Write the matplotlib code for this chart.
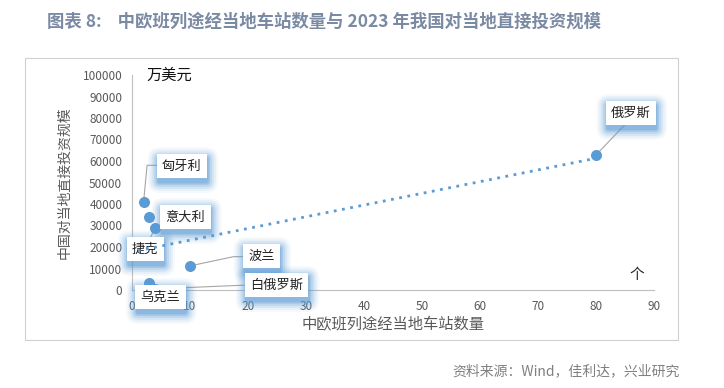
import matplotlib as mpl
import matplotlib.pyplot as plt
import numpy as np
from matplotlib.patches import FancyBboxPatch, Rectangle

mpl.use("Agg")

plt.rcParams["font.family"] = ["Noto Sans CJK SC", "DejaVu Sans"]

countries = ["匈牙利", "意大利", "捷克", "波兰", "乌克兰", "白俄罗斯", "俄罗斯"]
stations = [2, 3, 4, 10, 3, 4, 80]
investment = [41000, 34000, 29000, 11200, 3300, 500, 62800]

# label centre (data coords) and leader lines for each country
label_pos = {
    "匈牙利": (8.6, 57600),
    "意大利": (9.2, 34000),
    "捷克": (2.3, 19000),
    "波兰": (22.3, 15800),
    "乌克兰": (4.9, -3300),
    "白俄罗斯": (24.9, 2300),
    "俄罗斯": (86.0, 82300),
}
leaders = {
    "匈牙利": [(2, 41000), (2.6, 58000), (4.3, 58000)],
    "捷克": [(4, 29000), (3.2, 24500)],
    "波兰": [(10, 11200), (17.5, 15500), (19.2, 15500)],
    "白俄罗斯": [(4, 500), (19.8, 2300)],
    "俄罗斯": [(80, 62800), (85.2, 77500)],
}

blue = "#5b9bd5"
grey = "#595959"

fig = plt.figure(figsize=(7.24, 3.88), dpi=100)

fig.text(0.065, 0.943, "图表 8:    中欧班列途经当地车站数量与 2023 年我国对当地直接投资规模",
         fontsize=12.5, color="#7b8aa3", fontweight="bold", va="center")
fig.patches.append(Rectangle((25 / 724, 1 - 340 / 388), 653 / 724, 282 / 388,
                             transform=fig.transFigure, fill=False,
                             edgecolor="#d0d0d0", linewidth=0.8))
fig.text(0.939, 0.044, "资料来源：Wind，佳利达，兴业研究", fontsize=10,
         color="#808080", ha="right", va="center")

ax = fig.add_axes([132 / 724, 1 - 290 / 388, 522 / 724, 215 / 388])
ax.set_xlim(0, 90)
ax.set_ylim(0, 100000)
ax.set_xticks(np.arange(0, 91, 10))
ax.set_yticks(np.arange(0, 100001, 10000))
ax.set_yticklabels([str(v) for v in range(0, 100001, 10000)])
for s in ["top", "right"]:
    ax.spines[s].set_visible(False)
for s in ["left", "bottom"]:
    ax.spines[s].set_color("#bfbfbf")
ax.tick_params(length=0, labelsize=8.5, colors=grey, pad=7)
ax.patch.set_visible(False)

# linear trendline
k, b = np.polyfit(stations, investment, 1)
tx = np.array([1, max(stations)])
ax.plot(tx, k * tx + b, color=blue, linestyle=(0, (1, 2)), linewidth=2, zorder=7)

for name, pts in leaders.items():
    xs, ys = zip(*pts)
    ax.plot(xs, ys, color="#a6a6a6", linewidth=0.8, zorder=3, clip_on=False)

ax.scatter(stations, investment, s=48, color=blue, zorder=4, clip_on=False)

labels = []
for name in countries:
    x, y = label_pos[name]
    t = ax.text(x, y, name, fontsize=9.5, color="#222222", ha="center", va="center",
                zorder=6, clip_on=False,
                bbox=dict(boxstyle="square,pad=0.4", facecolor="white", edgecolor="none"))
    labels.append(t)

# soft blue glow behind each label box, drawn in pixel space
fig.canvas.draw()
for t in labels:
    bb = t.get_bbox_patch().get_window_extent()
    for grow, a in [(11, 0.06), (9, 0.09), (7, 0.13), (5, 0.18), (3, 0.25), (1.5, 0.35)]:
        p = FancyBboxPatch((bb.x0 + 2 - grow, bb.y0 - 4 - grow),
                           bb.width + 2 * grow - 2, bb.height + 2 * grow,
                           boxstyle=f"round,pad=0,rounding_size={grow + 1}",
                           transform=None, facecolor=blue, edgecolor="none",
                           alpha=a, zorder=5, clip_on=False)
        ax.add_artist(p)
        p.set_clip_on(False)

ax.text(2.5, 100000, "万美元", fontsize=11, color="#111111", va="center")
ax.text(87, 7000, "个", fontsize=10.5, color="#222222", ha="center", va="center")
ax.set_xlabel("中欧班列途经当地车站数量", fontsize=11, color=grey, labelpad=2)
ax.set_ylabel("中国对当地直接投资规模", fontsize=10, color=grey, labelpad=8)

plt.savefig("out.png", dpi=100)
